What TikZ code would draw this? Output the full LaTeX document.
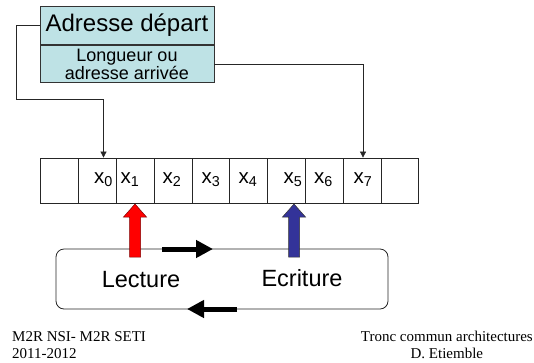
\documentclass[tikz,border=0pt]{standalone}
\usepackage{fontspec}
\setmainfont{Liberation Sans}
\newfontfamily\footfont{Liberation Serif}
\usetikzlibrary{arrows.meta}
\definecolor{boxcyan}{RGB}{190,226,229}
\definecolor{ecrblue}{RGB}{51,51,153}

\begin{document}
\begin{tikzpicture}[x=1pt,y=-1pt,
      cell/.style={draw=black!85,line width=0.8pt,minimum width=37.8pt,minimum height=45pt,inner sep=0pt},
      xlab/.style={anchor=base,inner sep=0pt,font=\fontsize{20.5}{24}\selectfont},
      adrbox/.style={draw=black!80,line width=0.8pt,fill=boxcyan,minimum width=174pt,inner sep=0pt},
      link/.style={draw=black!85,line width=0.7pt,-{Triangle[length=6pt,width=6pt]}},
      fat/.style={line width=5pt,-{Triangle[length=17pt,width=17pt]}},
      big/.style={font=\fontsize{23.5}{27}\selectfont}]
  \useasboundingbox (0,0) rectangle (534,362);
  % descriptor
  \node[adrbox,minimum height=38.7pt,font=\fontsize{24}{28}\selectfont] (adr) at (127,25.35) {Adresse départ};
  \node[adrbox,minimum height=37.3pt,anchor=north,align=center,font=\fontsize{18}{18}\selectfont] (lng) at (adr.south) {Longueur ou\\adresse arrivée};
  % memory
  \foreach \i in {0,...,9}
    \node[cell] (c\i) at (59.6+37.8*\i,180.5) {};
  \foreach \k/\xx in {0/103.5,1/130,2/172,3/211,4/248,5/293,6/323.5,7/363}
    \node[xlab] (x\k) at (\xx,183.5) {x\textsubscript{\k}};
  \draw[link] (adr.west) -| (16,99) -| (x0.center |- c1.north);
  \draw[link] (lng.east) -| (x7.center |- c8.north);
  % pointers
  \node[draw=black!85,line width=0.8pt,rounded corners=8pt,minimum width=332pt,minimum height=60pt] (loop) at (222,279) {};
  \node[big] (lect) at (141,280) {Lecture};
  \node[big] (ecr) at (302,278) {Ecriture};
  \draw[fill=red,draw=red!50!black,line width=0.5pt] (135,204) -- ++(11.5,13) -- ++(-6,0) -- ++(0,40)
    -- ++(-11,0) -- ++(0,-40) -- ++(-6,0) -- cycle;
  \draw[fill=ecrblue,draw=black!80,line width=0.5pt] (294,204) -- ++(11.5,13) -- ++(-6,0) -- ++(0,40)
    -- ++(-11,0) -- ++(0,-40) -- ++(-6,0) -- cycle;
  \draw[fat] (162,249) -- (213,249);
  \draw[fat] (237,309) -- (187,309);
  % footer
  \node[anchor=north west,align=left,inner sep=0pt,font=\footfont\fontsize{15}{17}\selectfont] (course) at (12,331) {M2R NSI- M2R SETI\\2011-2012};
  \node[anchor=north east,align=center,inner sep=0pt,font=\footfont\fontsize{15}{17}\selectfont] (auth) at (533,331) {Tronc commun architectures\\D. Etiemble};
\end{tikzpicture}
\end{document}
